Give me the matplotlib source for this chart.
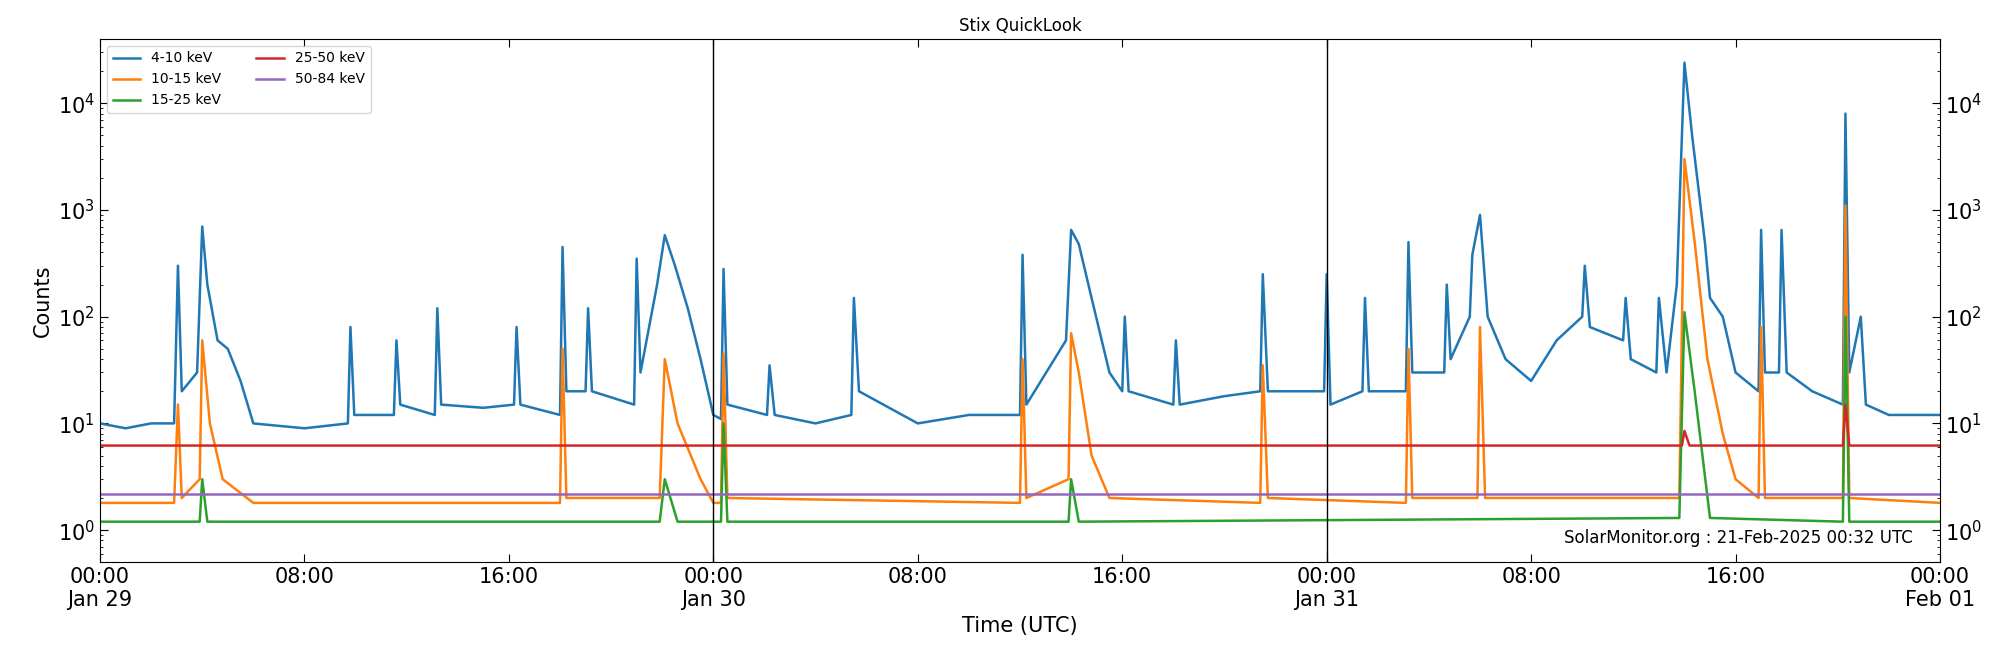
import matplotlib
matplotlib.use("Agg")
import matplotlib.pyplot as plt
import matplotlib.dates as mdates
from datetime import datetime, timedelta

start = datetime(2025, 1, 29)

t_4_10 = [0,1,2,2.9,3.05,3.2,3.8,4.0,4.2,4.6,5,5.5,6,8,9.7,9.8,9.95,11.5,11.6,11.75,13.1,13.2,13.35,15,16.2,16.3,16.45,18.0,18.1,18.25,19,19.1,19.25,20.9,21,21.15,21.8,22.1,22.5,23,23.5,24,24.3,24.4,24.55,26.1,26.2,26.4,28,29.4,29.5,29.7,32,34,36,36.1,36.25,37.8,38.0,38.3,38.8,39.5,40,40.1,40.25,42,42.1,42.25,44,45.4,45.5,45.7,47.9,48,48.15,49.4,49.5,49.65,51.1,51.2,51.35,52.6,52.7,52.85,53.6,53.7,54.0,54.3,55,56,57,58,58.1,58.3,59.6,59.7,59.9,60.9,61,61.3,61.7,62,62.3,62.8,63,63.5,64,64.9,65,65.15,65.7,65.8,66,67,68.2,68.3,68.45,68.9,69.1,70,71,72]
v_4_10 = [10,9,10,10,300,20,30,700,200,60,50,25,10,9,10,80,12,12,60,15,12,120,15,14,15,80,15,12,450,20,20,120,20,15,350,30,200,580,300,120,40,12,11,280,15,12,35,12,10,12,150,20,10,12,12,380,15,60,650,480,150,30,20,100,20,15,60,15,18,20,250,20,20,250,15,20,150,20,20,500,30,30,200,40,100,380,900,100,40,25,60,100,300,80,60,150,40,30,150,30,200,24000,5000,500,150,100,30,20,650,30,30,650,30,20,15,8000,30,100,15,12,12,12]

t_10_15 = [0,2.9,3.05,3.2,3.9,4.0,4.3,4.8,6,18.0,18.1,18.25,21.9,22.1,22.6,23.5,24,24.3,24.4,24.55,36,36.1,36.25,37.9,38.0,38.3,38.8,39.5,45.4,45.5,45.7,51.1,51.2,51.35,53.9,54.0,54.2,61.8,62,62.4,62.9,63.5,64,64.9,65,65.15,68.2,68.3,68.45,72]
v_10_15 = [1.8,1.8,15,2,3,60,10,3,1.8,1.8,50,2,2,40,10,3,1.8,1.8,45,2,1.8,40,2,3,70,30,5,2,1.8,35,2,1.8,50,2,2,80,2,2,3000,500,40,8,3,2,80,2,2,1100,2,1.8]

t_15_25 = [0,3.9,4.0,4.2,21.9,22.1,22.6,24.3,24.4,24.55,37.9,38.0,38.3,61.8,62,62.4,63,68.2,68.3,68.45,72]
v_15_25 = [1.2,1.2,3,1.2,1.2,3,1.2,1.2,10,1.2,1.2,3,1.2,1.3,110,20,1.3,1.2,100,1.2,1.2]

t_25_50 = [0,61.9,62,62.2,68.2,68.3,68.45,72]
v_25_50 = [6.2,6.2,8.5,6.2,6.2,15,6.2,6.2]

t_50_84 = [0,72]
v_50_84 = [2.2,2.2]

series = [("4-10 keV", t_4_10, v_4_10, "#1f77b4"),
          ("10-15 keV", t_10_15, v_10_15, "#ff7f0e"),
          ("15-25 keV", t_15_25, v_15_25, "#2ca02c"),
          ("25-50 keV", t_25_50, v_25_50, "#d62728"),
          ("50-84 keV", t_50_84, v_50_84, "#9467bd")]

fig = plt.figure(figsize=(20, 6.5), dpi=100)
ax = fig.add_axes([0.05, 0.135, 0.92, 0.805])
for name, t, v, c in series:
    ax.plot([start + timedelta(hours=h) for h in t], v, color=c, lw=1.8, label=name)
ax.set_yscale("log")
ax.set_ylim(0.5, 4e4)
ax.set_xlim(start, start + timedelta(hours=72))
for d in (1, 2):
    ax.axvline(start + timedelta(days=d), color="black", lw=1)
ax.xaxis.set_major_locator(mdates.HourLocator(byhour=[0, 8, 16]))
def fmt(x, pos):
    d = mdates.num2date(x)
    s = d.strftime("%H:%M")
    if d.hour == 0:
        s += "\n" + d.strftime("%b %d")
    return s
ax.xaxis.set_major_formatter(plt.FuncFormatter(fmt))
ax.tick_params(axis="both", which="both", direction="in", labelsize=15, right=True, labelright=True, top=True)
ax.tick_params(which="major", length=6)
ax.set_xlabel("Time (UTC)", fontsize=15)
ax.set_ylabel("Counts", fontsize=15)
ax.set_title("Stix QuickLook", fontsize=12)
ax.legend(loc="upper left", ncol=2, fontsize=10, columnspacing=2.5, handlelength=2)
ax.text(0.985, 0.03, "SolarMonitor.org : 21-Feb-2025 00:32 UTC", transform=ax.transAxes,
        ha="right", va="bottom", fontsize=12)
fig.savefig("out.png")
